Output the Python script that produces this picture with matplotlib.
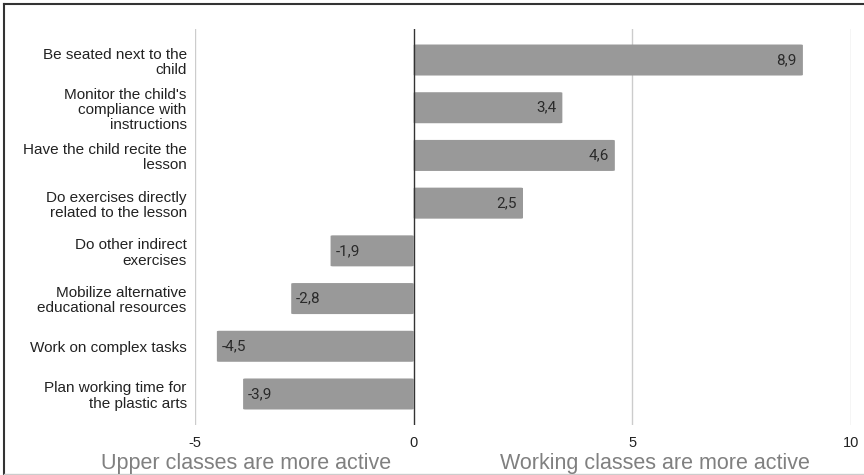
import numpy as np
import matplotlib.pyplot as plt
from matplotlib.patches import FancyBboxPatch

labels = ["Be seated next to the\nchild",
          "Monitor the child's\ncompliance with\ninstructions",
          "Have the child recite the\nlesson",
          "Do exercises directly\nrelated to the lesson",
          "Do other indirect\nexercises",
          "Mobilize alternative\neducational resources",
          "Work on complex tasks",
          "Plan working time for\nthe plastic arts"]
values = [8.9, 3.4, 4.6, 2.5, -1.9, -2.8, -4.5, -3.9]
xticks = [-5, 0, 5, 10]
left_title = "Upper classes are more active"
right_title = "Working classes are more active"

plt.rcParams['font.family'] = ['Liberation Sans', 'DejaVu Sans']
fig = plt.figure(figsize=(8.64, 4.75), dpi=100)
ax = fig.add_axes([195/864, 1-425/475, (851-195)/864, (425-29)/475])

y = np.arange(len(values))
h = 0.65
for yi, v in zip(y, values):
    x0 = min(0, v)
    bar = FancyBboxPatch((x0, yi-h/2), abs(v), h,
                         boxstyle="round,pad=0,rounding_size=0.06",
                         mutation_aspect=1/4.5,
                         fc="#999999", ec="none", zorder=2)
    ax.add_patch(bar)
    lab = ("%.1f" % v).replace(".", ",")
    if v >= 0:
        ax.annotate(lab, (v, yi), xytext=(-4.5, 0), textcoords="offset points",
                    ha="right", va="center", fontsize=11, color="#2a2a2a",
                    family="Roboto", zorder=3)
    else:
        ax.annotate(lab, (v, yi), xytext=(3.5, 0), textcoords="offset points",
                    ha="left", va="center", fontsize=11, color="#2a2a2a",
                    family="Roboto", zorder=3)

ax.set_xlim(-5, 10)
ax.set_ylim(len(values)-1+h, -h)
ax.set_yticks(y)
ax.set_yticklabels(labels, fontsize=11, color="#222222", linespacing=1.12)
ax.set_xticks(xticks)
ax.set_xticklabels([str(t) for t in xticks], fontsize=10.5, color="#222222")
ax.tick_params(length=0)
ax.tick_params(axis='x', pad=8)
ax.tick_params(axis='y', pad=6)
for s in ax.spines.values():
    s.set_visible(False)
for t in xticks:
    if t == 0:
        ax.axvline(t, color="#333333", lw=1.0, zorder=4)
    else:
        ax.axvline(t, color="#cccccc", lw=1.0, zorder=1)

fig.text(246/864, 1-463/475, left_title, ha="center", va="center",
         fontsize=15.5, color="#808080")
fig.text(655/864, 1-463/475, right_title, ha="center", va="center",
         fontsize=15.5, color="#808080")

# frame around the picture
fig.add_artist(plt.Line2D([4/864, 1], [1-4/475, 1-4/475], color="#333333", lw=1.5))
fig.add_artist(plt.Line2D([4/864, 4/864], [1-4/475, 0], color="#333333", lw=1.5))
fig.add_artist(plt.Line2D([4/864, 1], [1/475, 1/475], color="#cccccc", lw=1.0))

fig.savefig("out.png", dpi=100)
